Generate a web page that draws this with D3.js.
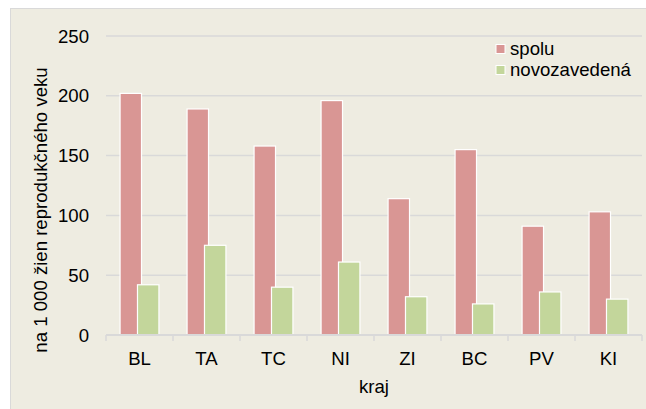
<!DOCTYPE html>
<html>
<head>
<meta charset="utf-8">
<script src="https://cdn.jsdelivr.net/npm/d3@7"></script>
<style>
  body { margin: 0; background: #fff; }
  text { font-family: "Liberation Sans", Arial, sans-serif; fill: #000; }
</style>
</head>
<body>
<div id="content"></div>
<script>
// Data.
var regions = ['BL', 'TA', 'TC', 'NI', 'ZI', 'BC', 'PV', 'KI'];
var spolu = [202, 189, 158, 196, 114, 155, 91, 103];
var novozavedena = [42, 75, 40, 61, 32, 26, 36, 30];
var seriesNames = ['spolu', 'novozavedená'];
var seriesColors = ['#d99694', '#c3d69b'];
var yTicks = [0, 50, 100, 150, 200, 250];

var W = 646, H = 409;
var fs = 18.6;
var svg = d3.select('#content')
    .append('svg')
    .attr('width', W)
    .attr('height', H);

// Panel background.
svg.append('rect')
    .attr('x', 10.5).attr('y', 8.5)
    .attr('width', W).attr('height', H)
    .attr('fill', '#eeece1')
    .attr('stroke', '#d9d9d9');

var plot = {left: 106, right: 642, top: 36, bottom: 335};

var x = d3.scaleBand()
    .domain(regions)
    .range([plot.left, plot.right]);

var y = d3.scaleLinear()
    .domain([0, 250])
    .range([plot.bottom, plot.top]);

// Gridlines.
svg.append('g')
    .selectAll('line')
    .data(yTicks.slice(1))
    .enter()
    .append('line')
    .attr('x1', plot.left).attr('x2', plot.right)
    .attr('y1', function(d) { return y(d); })
    .attr('y2', function(d) { return y(d); })
    .attr('stroke', '#d9d9d9')
    .attr('stroke-width', 1.5);

// Y tick labels.
svg.append('g')
    .selectAll('text')
    .data(yTicks)
    .enter()
    .append('text')
    .attr('x', 89)
    .attr('y', function(d) { return y(d); })
    .attr('dy', '0.36em')
    .attr('text-anchor', 'end')
    .attr('font-size', fs)
    .text(function(d) { return d; });

// Bars.
var bw = x.bandwidth();
var barW = bw * 0.32;
var offsets = [-bw * 0.13, bw * 0.13];
[spolu, novozavedena].forEach(function(vals, si) {
  svg.append('g')
      .selectAll('rect')
      .data(vals)
      .enter()
      .append('rect')
      .attr('x', function(d, i) {
        return x(regions[i]) + bw / 2 + offsets[si] - barW / 2;
      })
      .attr('y', function(d) { return y(d); })
      .attr('width', barW)
      .attr('height', function(d) { return y(0) - y(d); })
      .attr('fill', seriesColors[si])
      .attr('stroke', '#fff')
      .attr('stroke-width', 1.2);
});

// X axis.
var xAxis = svg.append('g')
    .attr('transform', 'translate(0,' + plot.bottom + ')');
xAxis.append('line')
    .attr('x1', plot.left).attr('x2', plot.right)
    .attr('stroke', '#d9d9d9').attr('stroke-width', 2);
xAxis.selectAll('line.tick')
    .data(regions.concat(['end']))
    .enter()
    .append('line')
    .attr('class', 'tick')
    .attr('x1', function(d, i) { return plot.left + i * bw; })
    .attr('x2', function(d, i) { return plot.left + i * bw; })
    .attr('y1', 0).attr('y2', 6)
    .attr('stroke', '#d9d9d9').attr('stroke-width', 1.5);
xAxis.selectAll('text')
    .data(regions)
    .enter()
    .append('text')
    .attr('x', function(d) { return x(d) + bw / 2; })
    .attr('y', 30)
    .attr('text-anchor', 'middle')
    .attr('font-size', fs)
    .text(function(d) { return d; });

// Axis titles.
svg.append('text')
    .attr('x', (plot.left + plot.right) / 2)
    .attr('y', 393)
    .attr('text-anchor', 'middle')
    .attr('font-size', fs)
    .text('kraj');

svg.append('text')
    .attr('transform', 'translate(47,' + 210 + ') rotate(-90)')
    .attr('text-anchor', 'middle')
    .attr('font-size', fs)
    .text('na 1 000 žien reprodukčného veku');

// Legend.
var legend = svg.append('g')
    .selectAll('g')
    .data(seriesNames)
    .enter()
    .append('g')
    .attr('transform', function(d, i) {
      return 'translate(496,' + (44.5 + i * 21) + ')';
    });
legend.append('rect')
    .attr('width', 9).attr('height', 9)
    .attr('fill', function(d, i) { return seriesColors[i]; })
    .attr('stroke', '#fff');
legend.append('text')
    .attr('x', 14)
    .attr('y', 10.5)
    .attr('font-size', fs)
    .text(function(d) { return d; });
</script>
</body>
</html>
